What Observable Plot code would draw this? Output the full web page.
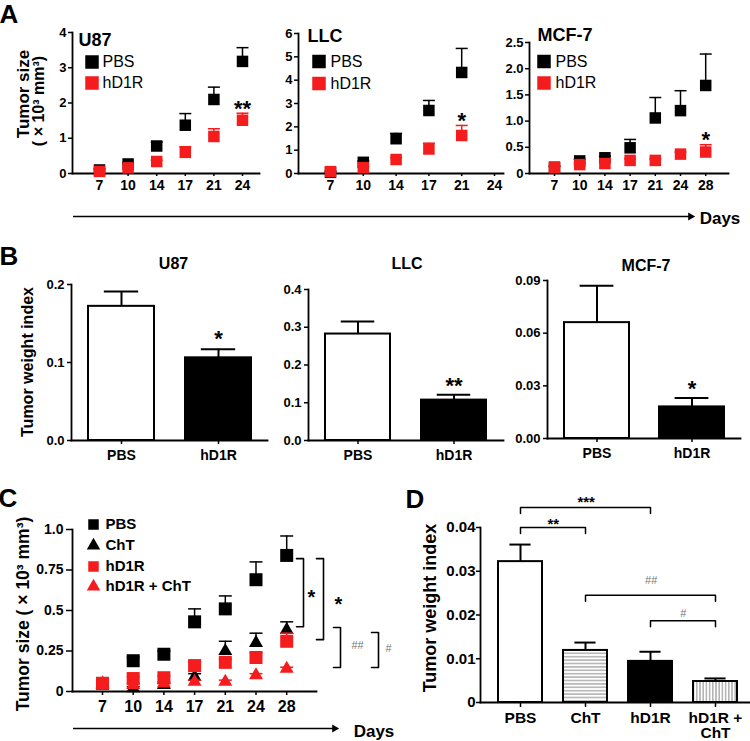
<!DOCTYPE html>
<html><head><meta charset="utf-8">
<script src="https://cdn.jsdelivr.net/npm/d3@7"></script>
<script src="https://cdn.jsdelivr.net/npm/@observablehq/plot@0.6"></script>
<style>
body{margin:0;background:#fff;}
#root{position:relative;width:750px;height:741px;overflow:hidden;font-family:"Liberation Sans",Arial,Helvetica,sans-serif;font-weight:bold;color:#000;background:#fff;}
.lbl{position:absolute;white-space:nowrap;line-height:1;}
</style></head><body>
<svg width="0" height="0" style="position:absolute"><defs>
<pattern id="hstripes" patternUnits="userSpaceOnUse" width="8" height="3.4"><rect width="8" height="3.4" fill="#fff"/><rect y="1.2" width="8" height="1" fill="#8a8a8a"/></pattern>
<pattern id="vstripes" patternUnits="userSpaceOnUse" width="3.2" height="8"><rect width="3.2" height="8" fill="#fff"/><rect x="1.1" width="1" height="8" fill="#8a8a8a"/></pattern>
</defs></svg>
<div id="root"></div>
<script>
// ================= DATA =================
// Panel A: tumour size (x10^3 mm^3) by day
const aTitles = ["U87", "LLC", "MCF-7"];
const aGroups = ["PBS", "hD1R"];
const u87Days = [7, 10, 14, 17, 21, 24];
const u87PBS = [0.10, 0.27, 0.78, 1.37, 2.10, 3.18];
const u87PBSErr = [0.03, 0.04, 0.11, 0.33, 0.35, 0.39];
const u87HD1R = [0.06, 0.16, 0.34, 0.60, 1.05, 1.51];
const u87HD1RErr = [0.02, 0.03, 0.04, 0.16, 0.22, 0.20];
const llcDays = [7, 10, 14, 17, 21, 24];
const llcPBS = [0.05, 0.48, 1.49, 2.70, 4.33, null];
const llcPBSErr = [0.02, 0.05, 0.23, 0.43, 1.03, null];
const llcHD1R = [0.08, 0.25, 0.60, 1.05, 1.63, null];
const llcHD1RErr = [0.03, 0.05, 0.08, 0.25, 0.43, null];
const mcfDays = [7, 10, 14, 17, 21, 24, 28];
const mcfPBS = [0.12, 0.24, 0.30, 0.49, 1.06, 1.20, 1.68];
const mcfPBSErr = [0.02, 0.03, 0.03, 0.16, 0.39, 0.38, 0.60];
const mcfHD1R = [0.11, 0.17, 0.19, 0.25, 0.25, 0.37, 0.41];
const mcfHD1RErr = [0.02, 0.03, 0.03, 0.03, 0.03, 0.04, 0.14];
const aYMax = [4, 6, 2.5];
const aYTicks = [[0, 1, 2, 3, 4], [0, 1, 2, 3, 4, 5, 6], [0, 0.5, 1, 1.5, 2, 2.5]];
const aStars = ["**", "*", "*"];

// Panel B: tumour weight index
const bTitles = ["U87", "LLC", "MCF-7"];
const bGroups = ["PBS", "hD1R"];
const bU87 = [0.172, 0.106];
const bU87Err = [0.019, 0.011];
const bLLC = [0.282, 0.107];
const bLLCErr = [0.033, 0.014];
const bMCF = [0.066, 0.018];
const bMCFErr = [0.021, 0.005];
const bYMax = [0.2, 0.4, 0.09];
const bYTicks = [[0, 0.1, 0.2], [0, 0.1, 0.2, 0.3, 0.4], [0, 0.03, 0.06, 0.09]];
const bStars = ["*", "**", "*"];

// Panel C: tumour size, four groups
const cDays = [7, 10, 14, 17, 21, 24, 28];
const cGroups = ["PBS", "ChT", "hD1R", "hD1R + ChT"];
const cPBS = [0.05, 0.19, 0.23, 0.43, 0.51, 0.69, 0.84];
const cPBSErr = [0.01, 0.02, 0.02, 0.08, 0.08, 0.11, 0.12];
const cChT = [0.04, 0.02, 0.04, 0.09, 0.25, 0.30, 0.38];
const cChTErr = [0.01, 0.01, 0.01, 0.02, 0.06, 0.06, 0.05];
const cHD1R = [0.05, 0.08, 0.085, 0.16, 0.18, 0.21, 0.31];
const cHD1RErr = [0.01, 0.01, 0.01, 0.02, 0.02, 0.03, 0.05];
const cCombo = [0.05, 0.04, 0.05, 0.06, 0.06, 0.10, 0.14];
const cComboErr = [0.01, 0.01, 0.01, 0.01, 0.01, 0.01, 0.01];
const cYTicks = [0, 0.25, 0.5, 0.75, 1];
const cCompFrom = ["PBS", "PBS", "ChT", "hD1R"];
const cCompTo = ["ChT", "hD1R", "hD1R + ChT", "hD1R + ChT"];
const cCompY1 = [0.82, 0.82, 0.395, 0.364];
const cCompY2 = [0.40, 0.32, 0.148, 0.148];
const cCompLabel = ["*", "*", "##", "#"];

// Panel D: tumour weight index, four groups
const dGroups = ["PBS", "ChT", "hD1R", "hD1R + ChT"];
const dMeans = [0.0322, 0.0119, 0.0094, 0.0048];
const dErrs = [0.0039, 0.0018, 0.0022, 0.0007];
const dYTicks = [0, 0.01, 0.02, 0.03, 0.04];
const dCompFrom = ["PBS", "PBS", "ChT", "hD1R"];
const dCompTo = ["hD1R", "ChT", "hD1R + ChT", "hD1R + ChT"];
const dCompY = [0.0446, 0.0400, 0.0245, 0.0187];
const dCompLabel = ["***", "**", "##", "#"];

// ================= STYLE / LAYOUT =================
const FONT = '"Liberation Sans", Arial, Helvetica, sans-serif';
const RED = "#f41c1c";
const BLK = "#000";
const GRAY = "#777";
const root = document.getElementById("root");
const baseStyle = {fontFamily: FONT, fontWeight: "bold", background: "transparent", overflow: "visible", color: "#000"};
const sq = side => side / Math.sqrt(Math.PI);
const tri = side => side / Math.sqrt(4 * Math.PI / Math.sqrt(3));
const capSymbol = {draw(ctx, size) { const w = Math.sqrt(size) / 2; ctx.moveTo(-w, 0); ctx.lineTo(w, 0); }};

const A_LAYOUT = [
  {left: 72, right: 259, top: 32, bottom: 173, first: 27, step: 28.6, titleDx: 6, titleDy: 8, legDx: 19.5, legTx: 30, legDy: [29.5, 50.5]},
  {left: 298, right: 503, top: 33, bottom: 173, first: 32, step: 32.8, titleDx: 9, titleDy: 3, legDx: 20.5, legTx: 32, legDy: [28, 50]},
  {left: 529, right: 728, top: 42, bottom: 173, first: 25, step: 25.2, titleDx: 8, titleDy: -7, legDx: 14.5, legTx: 26, legDy: [19, 40.5]}
];
const A_COMMON = {mL: 34, mT: 22, mR: 8, mB: 24, yTick: 4, yPad: 2, yFont: 13, xTick: 3, xPad: 4, xFont: 14, cap: 12, marker: 11.5, legMarker: 13.5, legFont: 16, legWeight: "normal", starFont: 22, starDy: -4.5};
const B_LAYOUT = [
  {left: 71, right: 267, top: 284, bottom: 440, titleDx: 4, titleDy: -21, starDy: -10.5},
  {left: 308, right: 503, top: 289, bottom: 440, titleDx: 1, titleDy: -26, starDy: -8.5},
  {left: 547, right: 740, top: 280, bottom: 438, titleDx: 2, titleDy: -15, starDy: -9.5}
];
const B_COMMON = {mL: 40, mT: 34, mR: 6, mB: 28, pi: 0.32, po: 0.17, capFrac: 0.52};
const C_LAYOUT = {left: 72, right: 316, top: 529, bottom: 691, first: 30, step: 30.7, mL: 40, mT: 14, mR: 90, mB: 28,
  yTick: 6, yPad: 3, yFont: 14, xTick: 4, xPad: 5, xFont: 16, cap: 13, legDx: 21, legTx: 33, legDy: [-5, 16, 37, 57],
  bracketPx: [231, 251, 268, 306], bracketArm: 7, labelPx: [8, 15, 17, 10]};
const D_LAYOUT = {left: 480, right: 755, top: 527, bottom: 702, mL: 44, mT: 42, mR: 0, mB: 38, pi: 0.33, po: 0.26, leg: 6,
  labelDy: [-5.5, -3.5, -15, -7]};

function put(node, left, top) {
  node.style.position = "absolute"; node.style.left = left + "px"; node.style.top = top + "px";
  root.appendChild(node);
}
function label(text, x, y, size, rotate, weight) {
  const d = document.createElement("div");
  d.className = "lbl"; d.textContent = text; d.style.fontSize = size + "px";
  d.style.left = x + "px"; d.style.top = y + "px";
  if (weight) d.style.fontWeight = weight;
  d.style.transform = "translate(-50%,-50%)" + (rotate ? ` rotate(${rotate}deg)` : "");
  root.appendChild(d);
}

// ---------- generic tumour-growth scatter ----------
function growthPlot(o) {
  const L = o.L;
  const fw = L.right - L.left, fh = L.bottom - L.top;
  const n = o.days.length;
  const marks = [
    Plot.axisY({ticks: o.yTicks, tickFormat: o.yFmt, tickSize: L.yTick, tickPadding: L.yPad, fontSize: L.yFont, label: null, strokeWidth: 1.5}),
    Plot.axisX({ticks: d3.range(n), tickFormat: i => String(o.days[i]), tickSize: L.xTick, tickPadding: L.xPad, fontSize: L.xFont, label: null, strokeWidth: 1.5}),
    Plot.frame({anchor: "left", strokeWidth: 1.8}),
    Plot.frame({anchor: "bottom", strokeWidth: 1.8})
  ];
  o.series.forEach(s => {
    const rows = s.values.map((v, i) => ({i, v, e: s.errs[i]})).filter(d => d.v != null);
    marks.push(
      Plot.ruleX(rows, {x: "i", y1: "v", y2: d => d.v + d.e, stroke: s.color, strokeWidth: 1.5}),
      Plot.dot(rows, {x: "i", y: d => d.v + d.e, symbol: capSymbol, r: sq(L.cap), stroke: s.color, strokeWidth: 1.5, fill: "none"}),
      Plot.dot(rows, {x: "i", y: "v", symbol: s.symbol, r: s.r, fill: s.color, stroke: "none"})
    );
  });
  o.series.forEach((s, k) => {
    marks.push(
      Plot.dot([s.name], {frameAnchor: "top-left", dx: L.legDx, dy: L.legDy[k], symbol: s.symbol, r: s.legR, fill: s.color, stroke: "none"}),
      Plot.text([s.name], {frameAnchor: "top-left", lineAnchor: "middle", dx: L.legTx, dy: L.legDy[k], text: d => d, textAnchor: "start", fontSize: L.legFont, fontWeight: L.legWeight})
    );
  });
  if (o.extra) marks.push(...o.extra);
  return Plot.plot({
    width: L.mL + fw + L.mR, height: L.mT + fh + L.mB,
    marginLeft: L.mL, marginRight: L.mR, marginTop: L.mT, marginBottom: L.mB,
    x: {type: "linear", domain: [-L.first / L.step, (fw - L.first) / L.step]},
    y: {type: "linear", domain: [0, o.yMax]},
    style: baseStyle,
    marks
  });
}

// ================= PANEL A =================
const aDays = [u87Days, llcDays, mcfDays];
const aMeans = [[u87PBS, u87HD1R], [llcPBS, llcHD1R], [mcfPBS, mcfHD1R]];
const aErrs = [[u87PBSErr, u87HD1RErr], [llcPBSErr, llcHD1RErr], [mcfPBSErr, mcfHD1RErr]];
aTitles.forEach((title, k) => {
  const L = Object.assign({}, A_COMMON, A_LAYOUT[k]);
  const colors = [BLK, RED];
  const series = aGroups.map((g, j) => ({name: g, color: colors[j], symbol: "square", r: sq(L.marker), legR: sq(L.legMarker), values: aMeans[k][j], errs: aErrs[k][j]}));
  const h = aMeans[k][1], he = aErrs[k][1];
  let last = h.length - 1; while (h[last] == null) last--;
  const yFmt = k === 2 ? (d => d === 0 ? "0" : d.toFixed(1)) : (d => String(d));
  const extra = [
    Plot.text([title], {frameAnchor: "top-left", lineAnchor: "middle", dx: L.titleDx, dy: L.titleDy, text: d => d, textAnchor: "start", fontSize: 18, fontWeight: "bold"}),
    Plot.text([{i: last, y: h[last] + he[last], s: aStars[k]}], {x: "i", y: "y", text: "s", dy: L.starDy, fontSize: L.starFont, fontWeight: "bold"})
  ];
  const svg = growthPlot({L, days: aDays[k], series, yTicks: aYTicks[k], yFmt, yMax: aYMax[k], extra});
  put(svg, L.left - L.mL, L.top - L.mT);
});

// ================= PANEL B =================
const bMeans = [bU87, bLLC, bMCF];
const bErrs = [bU87Err, bLLCErr, bMCFErr];
bTitles.forEach((title, k) => {
  const L = Object.assign({}, B_COMMON, B_LAYOUT[k]);
  const fw = L.right - L.left, fh = L.bottom - L.top;
  const step = fw / (bGroups.length - L.pi + 2 * L.po);
  const bw = step * (1 - L.pi);
  const inset = bw * (1 - L.capFrac) / 2;
  const rows = bGroups.map((g, j) => ({g, v: bMeans[k][j], e: bErrs[k][j], fill: j === 0 ? "#fff" : "#000"}));
  const digits = k === 2 ? 2 : 1;
  const svg = Plot.plot({
    width: L.mL + fw + L.mR, height: L.mT + fh + L.mB,
    marginLeft: L.mL, marginRight: L.mR, marginTop: L.mT, marginBottom: L.mB,
    x: {type: "band", domain: bGroups, paddingInner: L.pi, paddingOuter: L.po},
    y: {domain: [0, bYMax[k]]},
    color: {type: "identity"},
    style: baseStyle,
    marks: [
      Plot.axisY({ticks: bYTicks[k], tickFormat: d => d.toFixed(digits), tickSize: 4, tickPadding: 3, fontSize: 13, label: null, strokeWidth: 1.5}),
      Plot.axisX({tickSize: 4, tickPadding: 6, fontSize: 14, label: null, strokeWidth: 1.5}),
      Plot.ruleX(rows, {x: "g", y1: "v", y2: d => d.v + d.e, strokeWidth: 2}),
      Plot.tickY(rows, {x: "g", y: d => d.v + d.e, strokeWidth: 2, insetLeft: inset, insetRight: inset}),
      Plot.barY(rows, {x: "g", y: "v", fill: "fill", stroke: "#000", strokeWidth: 2}),
      Plot.frame({anchor: "left", strokeWidth: 1.8}),
      Plot.frame({anchor: "bottom", strokeWidth: 1.8}),
      Plot.text([title], {frameAnchor: "top", lineAnchor: "middle", dx: L.titleDx, dy: L.titleDy, text: d => d, fontSize: 16, fontWeight: "bold"}),
      Plot.text([rows[1]], {x: "g", y: d => d.v + d.e, text: () => bStars[k], dy: L.starDy, fontSize: 22, fontWeight: "bold"})
    ]
  });
  put(svg, L.left - L.mL, L.top - L.mT);
});

// ================= PANEL C =================
{
  const L = C_LAYOUT;
  const colors = [BLK, BLK, RED, RED];
  const symbols = ["square", "triangle", "square", "triangle"];
  const values = [cPBS, cChT, cHD1R, cCombo];
  const errs = [cPBSErr, cChTErr, cHD1RErr, cComboErr];
  const series = cGroups.map((g, j) => ({
    name: g, color: colors[j], symbol: symbols[j],
    r: symbols[j] === "square" ? sq(13) : tri(14),
    legR: symbols[j] === "square" ? sq(10.5) : tri(13.5),
    values: values[j], errs: errs[j]
  }));
  const idx = p => (p - L.first) / L.step;
  const arm = L.bracketArm / L.step;
  const brLines = [];
  const brLabels = [];
  cCompLabel.forEach((lab, k) => {
    const bx = idx(L.bracketPx[k]);
    brLines.push({k, x: bx - arm, y: cCompY1[k]}, {k, x: bx, y: cCompY1[k]}, {k, x: bx, y: cCompY2[k]}, {k, x: bx - arm, y: cCompY2[k]});
    brLabels.push({x: idx(L.bracketPx[k] + L.labelPx[k]), y: (cCompY1[k] + cCompY2[k]) / 2, lab, from: cCompFrom[k], to: cCompTo[k]});
  });
  const extra = [
    Plot.line(brLines, {x: "x", y: "y", z: "k", stroke: "#000", strokeWidth: 1.6}),
    Plot.text(brLabels.filter(d => d.lab === "*"), {x: "x", y: "y", text: "lab", fontSize: 20, fontWeight: "bold", dy: 5}),
    Plot.text(brLabels.filter(d => d.lab !== "*"), {x: "x", y: "y", text: "lab", fontSize: 11, fontWeight: "normal", fill: GRAY, dy: -2})
  ];
  const yFmt = d => d === 0 ? "0" : d === 1 ? "1.0" : String(d);
  const Lc = Object.assign({}, L, {legFont: 15, legWeight: "bold"});
  const svg = growthPlot({L: Lc, days: cDays, series, yTicks: cYTicks, yFmt, yMax: 1, extra});
  put(svg, L.left - L.mL, L.top - L.mT);
}

// ================= PANEL D =================
{
  const L = D_LAYOUT;
  const fw = L.right - L.left, fh = L.bottom - L.top;
  const step = fw / (dGroups.length - L.pi + 2 * L.po);
  const bw = step * (1 - L.pi);
  const inset = bw * 0.26;
  const fills = ["#fff", "url(#hstripes)", "#000", "url(#vstripes)"];
  const rows = dGroups.map((g, j) => ({g, v: dMeans[j], e: dErrs[j], fill: fills[j]}));
  const legY = L.leg * (0.04 / fh);
  const brRows = [];
  dCompLabel.forEach((lab, k) => {
    brRows.push({k, x: dCompFrom[k], y: dCompY[k] - legY}, {k, x: dCompFrom[k], y: dCompY[k]}, {k, x: dCompTo[k], y: dCompY[k]}, {k, x: dCompTo[k], y: dCompY[k] - legY});
  });
  const labelMarks = dCompLabel.map((lab, k) => {
    const span = dGroups.indexOf(dCompTo[k]) - dGroups.indexOf(dCompFrom[k]);
    const isHash = lab.startsWith("#");
    return Plot.text([{x: dCompFrom[k], y: dCompY[k], lab}], {x: "x", y: "y", text: "lab", dx: span * step / 2, dy: L.labelDy[k],
      fontSize: isHash ? 11 : 15, fontWeight: isHash ? "normal" : "bold", fill: isHash ? GRAY : "#000"});
  });
  const svg = Plot.plot({
    width: L.mL + fw + L.mR, height: L.mT + fh + L.mB,
    marginLeft: L.mL, marginRight: L.mR, marginTop: L.mT, marginBottom: L.mB,
    x: {type: "band", domain: dGroups, paddingInner: L.pi, paddingOuter: L.po},
    y: {domain: [0, 0.04]},
    color: {type: "identity"},
    style: baseStyle,
    marks: [
      Plot.axisY({ticks: dYTicks, tickFormat: d => d === 0 ? "0" : d.toFixed(2), tickSize: 4, tickPadding: 1, fontSize: 15, label: null, strokeWidth: 1.5}),
      Plot.axisX({tickFormat: d => d === "hD1R + ChT" ? "hD1R +\nChT" : d, tickSize: 5, tickPadding: 4, fontSize: 15.5, lineHeight: 1.0, label: null, strokeWidth: 1.5}),
      Plot.ruleX(rows, {x: "g", y1: "v", y2: d => d.v + d.e, strokeWidth: 2}),
      Plot.tickY(rows, {x: "g", y: d => d.v + d.e, strokeWidth: 2, insetLeft: inset, insetRight: inset}),
      Plot.barY(rows, {x: "g", y: "v", fill: "fill", stroke: "#000", strokeWidth: 2}),
      Plot.frame({anchor: "left", strokeWidth: 1.8}),
      Plot.frame({anchor: "bottom", strokeWidth: 1.8}),
      Plot.line(brRows, {x: "x", y: "y", z: "k", stroke: "#000", strokeWidth: 1.5}),
      ...labelMarks
    ]
  });
  put(svg, L.left - L.mL, L.top - L.mT);
}

// ================= Days arrows =================
function arrowPlot(x0, x1, y) {
  const svg = Plot.plot({
    width: x1 - x0, height: 10, margin: 0, axis: null,
    x: {domain: [0, 1]}, y: {domain: [0, 1]},
    style: baseStyle,
    marks: [
      Plot.ruleY([0.5], {x1: () => 0, x2: () => 1, strokeWidth: 1.5}),
      Plot.dot([1], {x: d => d, y: () => 0.5, symbol: "triangle", rotate: 90, r: 3, fill: "#000", stroke: "none"})
    ]
  });
  put(svg, x0, y - 5);
}
arrowPlot(73, 690, 216);
arrowPlot(73, 334, 728);

// ================= Text labels =================
label("A", 9, 14, 26);
label("B", 9, 256, 26);
label("C", 8, 498, 26);
label("D", 415, 499, 26);
label("Tumor size", 23, 94, 17, -90);
label("( × 10³ mm³)", 39, 101, 16, -90);
label("Tumor weight index", 28, 362, 16, -90);
label("Tumor size ( × 10³ mm³)", 24, 614, 17.5, -90);
label("Tumor weight index", 430, 608, 18, -90);
label("Days", 720, 218, 17);
label("Days", 374, 731, 17);
</script>
</body></html>
